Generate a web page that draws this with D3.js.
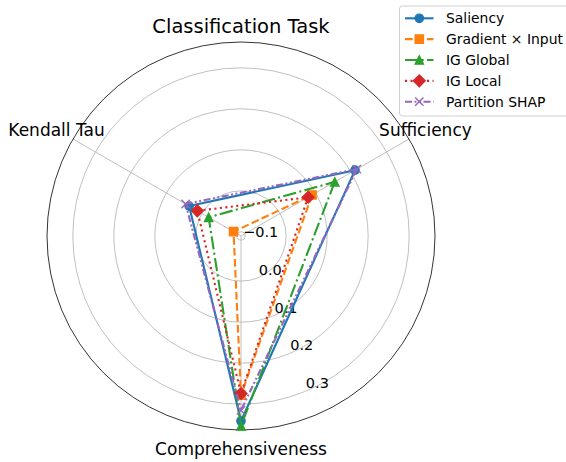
<!DOCTYPE html>
<html>
<head>
<meta charset="utf-8">
<script src="https://cdn.jsdelivr.net/npm/d3@7"></script>
<style>
  body { margin: 0; background: #fff; }
  text { font-family: "DejaVu Sans", sans-serif; fill: #000; }
</style>
</head>
<body>
<svg id="chart" width="566" height="462"></svg>
<script>
// values, one per axis (clockwise from upper right)
var axisLabels = ["Sufficiency", "Comprehensiveness", "Kendall Tau"];
var seriesNames = ["Saliency", "Gradient \u00d7 Input", "IG Global", "IG Local", "Partition SHAP"];
var saliency = [0.211, 0.341, 0.036];
var gradientInput = [0.090, 0.278, -0.089];
var igGlobal = [0.154, 0.353, -0.019];
var igLocal = [0.079, 0.274, 0.013];
var partitionShap = [0.216, 0.315, 0.046];
var radialTicks = [-0.1, 0.0, 0.1, 0.2, 0.3];
var radialLimits = [-0.11, 0.363];

var allSeries = [saliency, gradientInput, igGlobal, igLocal, partitionShap];

var styles = [
    { color: "#1f77b4", dash: null, marker: "circle" },
    { color: "#ff7f0e", dash: "7.7,3.3", marker: "square" },
    { color: "#2ca02c", dash: "13.3,3.3,2.1,3.3", marker: "triangle" },
    { color: "#d62728", dash: "2.1,3.4", marker: "diamond" },
    { color: "#9467bd", dash: "7,2.5,2,2.5,2,2.5", marker: "x" }
];

var svg = d3.select("#chart");
var cx = 241, cy = 236, outerR = 194, labelR = 213;

var r = d3.scaleLinear().domain(radialLimits).range([0, outerR]);
// screen angle in degrees, counter-clockwise from the right
var angle = d3.scaleLinear().domain([0, 3]).range([30, -330]);

var toXY = function(i, v) {
    var a = angle(i) * Math.PI / 180;
    return [cx + r(v) * Math.cos(a), cy - r(v) * Math.sin(a)];
};

var markerPath = function(type, s) {
    var h = s / 2;
    if (type === "circle") {
        return "M" + (-h) + ",0A" + h + "," + h + " 0 1,0 " + h + ",0A" + h + "," + h + " 0 1,0 " + (-h) + ",0Z";
    }
    if (type === "square") {
        return "M" + (-h) + "," + (-h) + "H" + h + "V" + h + "H" + (-h) + "Z";
    }
    if (type === "triangle") {
        return "M0," + (-h) + "L" + h + "," + h + "L" + (-h) + "," + h + "Z";
    }
    if (type === "diamond") {
        var d = h * Math.SQRT2;
        return "M0," + (-d) + "L" + d + ",0L0," + d + "L" + (-d) + ",0Z";
    }
    return "M" + (-h) + "," + (-h) + "L" + h + "," + h + "M" + (-h) + "," + h + "L" + h + "," + (-h);
};

var drawMarker = function(g, style, x, y) {
    var filled = style.marker !== "x";
    g.append("path")
        .attr("d", markerPath(style.marker, 8.3))
        .attr("transform", "translate(" + x + "," + y + ")")
        .attr("fill", filled ? style.color : "none")
        .attr("stroke", style.color)
        .attr("stroke-width", 1.4)
        .attr("stroke-linejoin", "miter");
};

// grid circles
var grid = svg.append("g");
grid.selectAll(".ring")
    .data(radialTicks)
  .enter()
    .append("circle")
    .attr("class", "ring")
    .attr("cx", cx)
    .attr("cy", cy)
    .attr("r", function(d) { return r(d); })
    .attr("fill", "none")
    .attr("stroke", "#b0b0b0")
    .attr("stroke-width", 0.8);

// spokes
grid.selectAll(".spoke")
    .data(axisLabels)
  .enter()
    .append("line")
    .attr("class", "spoke")
    .attr("x1", cx)
    .attr("y1", cy)
    .attr("x2", function(d, i) { return toXY(i, radialLimits[1])[0]; })
    .attr("y2", function(d, i) { return toXY(i, radialLimits[1])[1]; })
    .attr("stroke", "#b0b0b0")
    .attr("stroke-width", 0.8);

// outer frame
svg.append("circle")
    .attr("cx", cx)
    .attr("cy", cy)
    .attr("r", outerR)
    .attr("fill", "none")
    .attr("stroke", "#000")
    .attr("stroke-width", 0.8);

// radial tick labels along a ray below-right of the center
var labelAngle = -67.5 * Math.PI / 180;
svg.selectAll(".rtick")
    .data(radialTicks)
  .enter()
    .append("text")
    .attr("class", "rtick")
    .attr("x", function(d) { return cx + r(d) * Math.cos(labelAngle) + 0.5; })
    .attr("y", function(d) { return cy - r(d) * Math.sin(labelAngle) - 3; })
    .attr("font-size", "14.5px")
    .text(function(d) { return d3.format(".1f")(d).replace("-", "\u2212"); });

// axis labels
svg.selectAll(".axis-label")
    .data(axisLabels)
  .enter()
    .append("text")
    .attr("class", "axis-label")
    .attr("x", function(d, i) {
        var a = angle(i) * Math.PI / 180;
        return cx + labelR * Math.cos(a);
    })
    .attr("y", function(d, i) {
        var a = angle(i) * Math.PI / 180;
        return cy - labelR * Math.sin(a);
    })
    .attr("text-anchor", "middle")
    .attr("dominant-baseline", "central")
    .attr("font-size", "17px")
    .text(function(d) { return d; });

// series
var line = d3.line().curve(d3.curveLinearClosed);
allSeries.forEach(function(values, s) {
    var style = styles[s];
    var pts = values.map(function(v, i) { return toXY(i, v); });
    var g = svg.append("g").attr("class", "series");
    g.append("path")
        .attr("d", line(pts))
        .attr("fill", "none")
        .attr("stroke", style.color)
        .attr("stroke-width", 2.1)
        .attr("stroke-dasharray", style.dash)
        .attr("stroke-linejoin", "round");
    pts.forEach(function(p) { drawMarker(g, style, p[0], p[1]); });
});

// title
svg.append("text")
    .attr("x", cx)
    .attr("y", 33)
    .attr("text-anchor", "middle")
    .attr("font-size", "19.5px")
    .text("Classification Task");

// legend
var legend = svg.append("g").attr("class", "legend");
legend.append("rect")
    .attr("x", 399.5)
    .attr("y", 6)
    .attr("width", 180)
    .attr("height", 110)
    .attr("rx", 3)
    .attr("fill", "#fff")
    .attr("fill-opacity", 0.8)
    .attr("stroke", "#d0d0d0")
    .attr("stroke-width", 1);

var rowY = d3.scaleLinear().domain([0, 4]).range([18.3, 101.7]);
seriesNames.forEach(function(name, s) {
    var style = styles[s];
    var y = rowY(s);
    var row = legend.append("g");
    row.append("line")
        .attr("x1", 405)
        .attr("x2", 433.5)
        .attr("y1", y)
        .attr("y2", y)
        .attr("stroke", style.color)
        .attr("stroke-width", 2.1)
        .attr("stroke-dasharray", style.dash);
    drawMarker(row, style, 419.3, y);
    row.append("text")
        .attr("x", 446)
        .attr("y", y)
        .attr("dominant-baseline", "central")
        .attr("font-size", "13.9px")
        .text(name);
});
</script>
</body>
</html>
